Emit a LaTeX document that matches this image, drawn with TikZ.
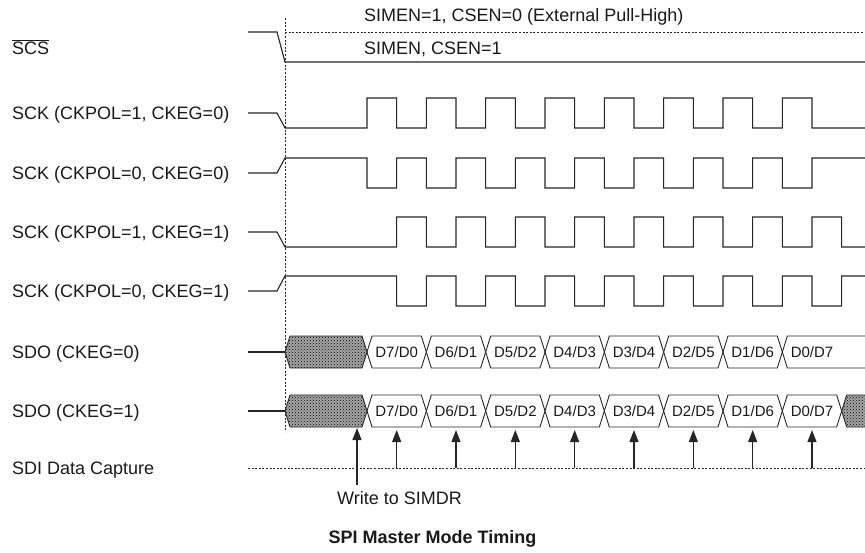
\documentclass[tikz,border=0pt]{standalone}
\usepackage{fontspec}
\setmainfont{Liberation Sans}
\usetikzlibrary{arrows.meta,patterns}
\newcommand\busCell[4]{%
  \draw[#4] (#1,#3) -- ({#1+5},{#3-16}) -- ({#2-5},{#3-16}) -- (#2,#3) -- ({#2-5},{#3+16}) -- ({#1+5},{#3+16}) -- cycle;}
\begin{document}
\begin{tikzpicture}[x=1pt,y=-1pt,
  wave/.style={line width=1.1pt, line join=miter, draw=black!85},
  guide/.style={line width=0.9pt, draw=black!85, dash pattern=on 2pt off 1.6pt},
  lab/.style={font=\fontsize{18}{20}\selectfont, inner sep=0pt, anchor=base west, text=black!90},
  dlab/.style={font=\fontsize{15}{17}\selectfont, inner sep=0pt, text=black!90},
  busx/.style={line width=0.9pt, draw=black!85},
  hatch/.style={busx, preaction={fill=gray!70}, pattern=crosshatch dots, pattern color=black},
  arr/.style={line width=1.1pt, draw=black!85, -{Triangle[width=9pt,length=12pt]}}
]
\useasboundingbox (0,0) rectangle (865,552);

% labels
\node[lab] (lscs) at (12,54.4) {$\overline{\mbox{SCS}}$};
\node[lab] (lk1) at (12,119.4) {SCK (CKPOL=1, CKEG=0)};
\node[lab] (lk2) at (12,179.4) {SCK (CKPOL=0, CKEG=0)};
\node[lab] (lk3) at (12,238.4) {SCK (CKPOL=1, CKEG=1)};
\node[lab] (lk4) at (12,297.4) {SCK (CKPOL=0, CKEG=1)};
\node[lab] (ld0) at (12,358.4) {SDO (CKEG=0)};
\node[lab] (ld1) at (12,417.4) {SDO (CKEG=1)};
\node[lab] (lsdi) at (12,474.4) {SDI Data Capture};
\node[lab] (top1) at (364,21) {SIMEN=1, CSEN=0 (External Pull-High)};
\node[lab] (top2) at (364,54) {SIMEN, CSEN=1};

% vertical guide
\draw[guide] (285,18) -- (285,432);

% SCS
\draw[wave] (248,32) -- (277,32) -- (285,62) -- (865,62);
\draw[guide] (285,32) -- (865,32);

% SCK rows
\draw[wave] (248,113) -- (277,113) -- (285,128) -- (367,128)
  \foreach \i in {0,...,7} { -- ++(0,-30) -- ++(29.667,0) -- ++(0,30) -- ++(29.667,0) } -- (865,128);
\draw[wave] (248,173) -- (277,173) -- (285,158) -- (367,158)
  \foreach \i in {0,...,7} { -- ++(0,30) -- ++(29.667,0) -- ++(0,-30) -- ++(29.667,0) } -- (865,158);
\draw[wave] (248,232) -- (277,232) -- (285,247) -- (396.667,247)
  \foreach \i in {0,...,6} { -- ++(0,-30) -- ++(29.667,0) -- ++(0,30) -- ++(29.667,0) }
  -- ++(0,-30) -- ++(29.667,0) -- ++(0,30) -- (865,247);
\draw[wave] (248,291) -- (277,291) -- (285,276) -- (396.667,276)
  \foreach \i in {0,...,6} { -- ++(0,30) -- ++(29.667,0) -- ++(0,-30) -- ++(29.667,0) }
  -- ++(0,30) -- ++(29.667,0) -- ++(0,-30) -- (865,276);

% SDO (CKEG=0)
\draw[wave] (248,352) -- (285,352);
\busCell{285}{367}{352}{hatch}
\foreach \i in {0,...,6} {
  \pgfmathsetmacro\xa{367+59.333*\i}
  \pgfmathsetmacro\xb{\xa+59.333}
  \busCell{\xa}{\xb}{352}{busx}
}
\draw[busx] (865,336) -- (787.33,336) -- (782.33,352) -- (787.33,368) -- (865,368);
% SDO (CKEG=1)
\draw[wave] (248,411) -- (285,411);
\busCell{285}{367}{411}{hatch}
\foreach \i in {0,...,7} {
  \pgfmathsetmacro\xa{367+59.333*\i}
  \pgfmathsetmacro\xb{\xa+59.333}
  \busCell{\xa}{\xb}{411}{busx}
}
\fill[preaction={fill=gray!70}, pattern=crosshatch dots, pattern color=black]
  (841.67,411) -- (846.67,395) -- (865,395) -- (865,427) -- (846.67,427) -- cycle;
\draw[busx] (865,395) -- (846.67,395) -- (841.67,411) -- (846.67,427) -- (865,427);

% data labels
\foreach \t [count=\k from 0] in {D7/D0,D6/D1,D5/D2,D4/D3,D3/D4,D2/D5,D1/D6,D0/D7} {
  \node[dlab] (a\k) at ({396.67+59.333*\k},352) {\t};
  \node[dlab] (b\k) at ({396.67+59.333*\k},411) {\t};
}

% SDI line and capture arrows
\draw[guide] (248,468) -- (865,468);
\foreach \i in {0,...,7} {
  \coordinate (s\i) at ({396.67+59.333*\i},468);
  \coordinate (t\i) at ({396.67+59.333*\i},430);
  \draw[arr] (s\i) -- (t\i);
}
\coordinate (w0) at (357,485);
\coordinate (w1) at (357,428);
\draw[arr] (w0) -- (w1);
\node[lab] (wt) at (337,504.4) {Write to SIMDR};

% title
\node[font=\fontsize{18}{20}\selectfont\bfseries, inner sep=0pt, anchor=base, text=black!90] (title) at (432.5,543.4) {SPI Master Mode Timing};
\end{tikzpicture}
\end{document}
